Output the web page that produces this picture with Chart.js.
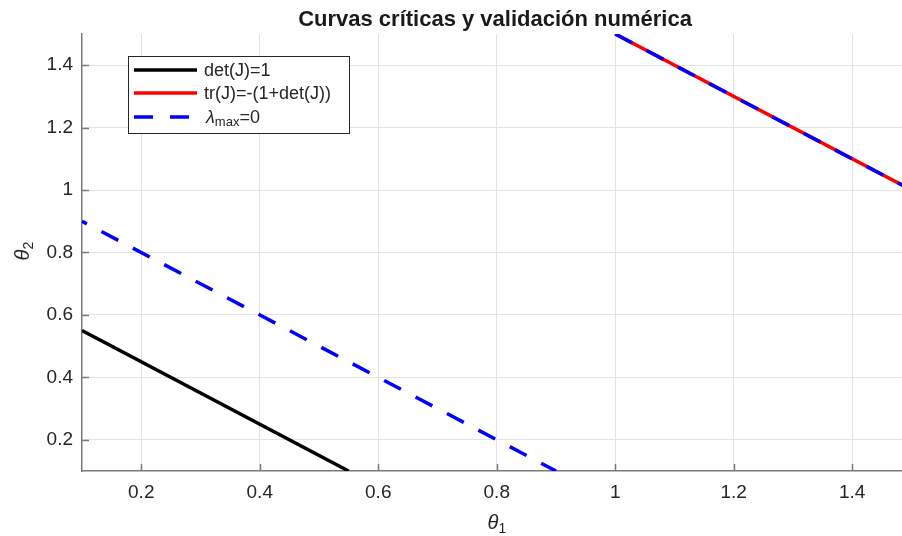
<!DOCTYPE html>
<html>
<head>
<meta charset="utf-8">
<script src="https://cdn.jsdelivr.net/npm/chart.js@4/dist/chart.umd.min.js"></script>
<style>
  html, body { margin: 0; padding: 0; background: #fff; }
  #wrap { width: 902px; height: 536px; }
</style>
</head>
<body>
<div id="wrap"><canvas id="myChart" width="902" height="536"></canvas></div>
<script>
// Datos
const detX = [0.1, 0.55];
const detY = [0.55, 0.1];
const trX = [1.0, 1.5];
const trY = [1.5, 1.0];
const lamX1 = [0.1, 0.9];
const lamY1 = [0.9, 0.1];
const lamX2 = [1.0, 1.5];
const lamY2 = [1.5, 1.0];
const xTicks = [0.2, 0.4, 0.6, 0.8, 1, 1.2, 1.4];
const yTicks = [0.2, 0.4, 0.6, 0.8, 1, 1.2, 1.4];
const tituloTxt = 'Curvas críticas y validación numérica';
const leyenda = ['det(J)=1', 'tr(J)=-(1+det(J))', 'max'];

const fuente = '"Liberation Sans", Arial, Helvetica, sans-serif';
const ejeColor = '#7a7a7a';
const textoColor = '#262626';

const pares = (xs, ys) => xs.map((x, i) => ({ x, y: ys[i] }));

const linea = (data, color, dash, offset, order) => ({
    data,
    showLine: true,
    borderColor: color,
    borderWidth: 3.5,
    borderDash: dash,
    borderDashOffset: offset,
    borderCapStyle: 'butt',
    pointRadius: 0,
    pointHoverRadius: 0,
    clip: 0,
    order
});

// Ticks hacia dentro, título, etiquetas y leyenda
const extras = {
    id: 'extras',
    afterDraw(chart) {
        const ctx = chart.ctx;
        const a = chart.chartArea;
        const xs = chart.scales.x, ys = chart.scales.y;
        ctx.save();
        ctx.strokeStyle = ejeColor;
        ctx.lineWidth = 1.5;
        ctx.beginPath();
        xTicks.forEach(v => {
            const px = Math.round(xs.getPixelForValue(v)) + 0.5;
            ctx.moveTo(px, a.bottom);
            ctx.lineTo(px, a.bottom - 7);
        });
        yTicks.forEach(v => {
            const py = Math.round(ys.getPixelForValue(v)) + 0.5;
            ctx.moveTo(a.left, py);
            ctx.lineTo(a.left + 7, py);
        });
        ctx.stroke();

        // título
        ctx.fillStyle = '#1a1a1a';
        ctx.font = 'bold 22px ' + fuente;
        ctx.textAlign = 'center';
        ctx.textBaseline = 'middle';
        ctx.fillText(tituloTxt, (a.left + a.right) / 2 + 3, 20);

        // theta_1
        ctx.fillStyle = textoColor;
        ctx.textAlign = 'left';
        ctx.textBaseline = 'alphabetic';
        ctx.font = 'italic 20px ' + fuente;
        let w = ctx.measureText('θ').width;
        let x0 = 497 - (w + 8) / 2;
        ctx.fillText('θ', x0, 529);
        ctx.font = '14px ' + fuente;
        ctx.fillText('1', x0 + w, 533);

        // theta_2
        ctx.save();
        ctx.translate(29, 251);
        ctx.rotate(-Math.PI / 2);
        ctx.font = 'italic 20px ' + fuente;
        w = ctx.measureText('θ').width;
        x0 = -(w + 8) / 2;
        ctx.fillText('θ', x0, 0);
        ctx.font = '14px ' + fuente;
        ctx.fillText('2', x0 + w, 4);
        ctx.restore();

        // leyenda
        const bx = 128.5, by = 56.5, bw = 221, bh = 77;
        ctx.fillStyle = '#fff';
        ctx.fillRect(bx, by, bw, bh);
        ctx.strokeStyle = '#262626';
        ctx.lineWidth = 1;
        ctx.strokeRect(bx, by, bw, bh);
        const filas = [70, 93, 117];
        const estilos = [['#000', []], ['#ff0000', []], ['#0000ff', [19, 17]]];
        filas.forEach((fy, i) => {
            ctx.beginPath();
            ctx.strokeStyle = estilos[i][0];
            ctx.lineWidth = 3.5;
            ctx.lineCap = 'butt';
            ctx.setLineDash(estilos[i][1]);
            ctx.moveTo(134, fy);
            ctx.lineTo(197, fy);
            ctx.stroke();
        });
        ctx.setLineDash([]);
        ctx.fillStyle = textoColor;
        ctx.textBaseline = 'middle';
        ctx.font = '18px ' + fuente;
        ctx.fillText(leyenda[0], 204, filas[0] + 1);
        ctx.fillText(leyenda[1], 204, filas[1] + 1);
        ctx.font = 'italic 18px ' + fuente;
        ctx.fillText('λ', 206, filas[2] + 1);
        let lx = 206 + ctx.measureText('λ').width;
        ctx.font = '13px ' + fuente;
        ctx.fillText(leyenda[2], lx, filas[2] + 5);
        lx += ctx.measureText(leyenda[2]).width;
        ctx.font = '18px ' + fuente;
        ctx.fillText('=0', lx, filas[2] + 1);
        ctx.restore();
    }
};

const config = {
    type: 'scatter',
    data: {
        datasets: [
            linea(pares(detX, detY), '#000000', [], 0, 3),
            linea(pares(trX, trY), '#ff0000', [], 0, 2),
            linea(pares(lamX1, lamY1), '#0000ff', [19, 16.5], 13.5, 1),
            linea(pares(lamX2, lamY2), '#0000ff', [19, 16.5], 0, 1)
        ]
    },
    options: {
        responsive: false,
        animation: false,
        events: [],
        layout: { padding: { top: 34, right: 0, left: 0, bottom: 0 } },
        plugins: { legend: { display: false }, tooltip: { enabled: false } },
        scales: {
            x: {
                type: 'linear',
                min: 0.1,
                max: 1.484,
                afterBuildTicks: s => { s.ticks = xTicks.map(v => ({ value: v })); },
                afterFit: s => { s.height = 65; },
                grid: { color: '#e3e3e3', lineWidth: 1, drawTicks: false },
                border: { display: true, color: ejeColor, width: 1.5 },
                ticks: {
                    padding: 10,
                    color: textoColor,
                    font: { size: 19, family: fuente },
                    maxRotation: 0,
                    callback: v => String(v)
                }
            },
            y: {
                type: 'linear',
                min: 0.1,
                max: 1.5,
                afterBuildTicks: s => { s.ticks = yTicks.map(v => ({ value: v })); },
                afterFit: s => { s.width = 82; },
                grid: { color: '#e3e3e3', lineWidth: 1, drawTicks: false },
                border: { display: true, color: ejeColor, width: 1.5 },
                ticks: {
                    padding: 9,
                    color: textoColor,
                    font: { size: 19, family: fuente },
                    callback: v => String(v)
                }
            }
        }
    },
    plugins: [extras]
};

const ctx = document.getElementById('myChart').getContext('2d');
const myChart = new Chart(ctx, config);
</script>
</body>
</html>
